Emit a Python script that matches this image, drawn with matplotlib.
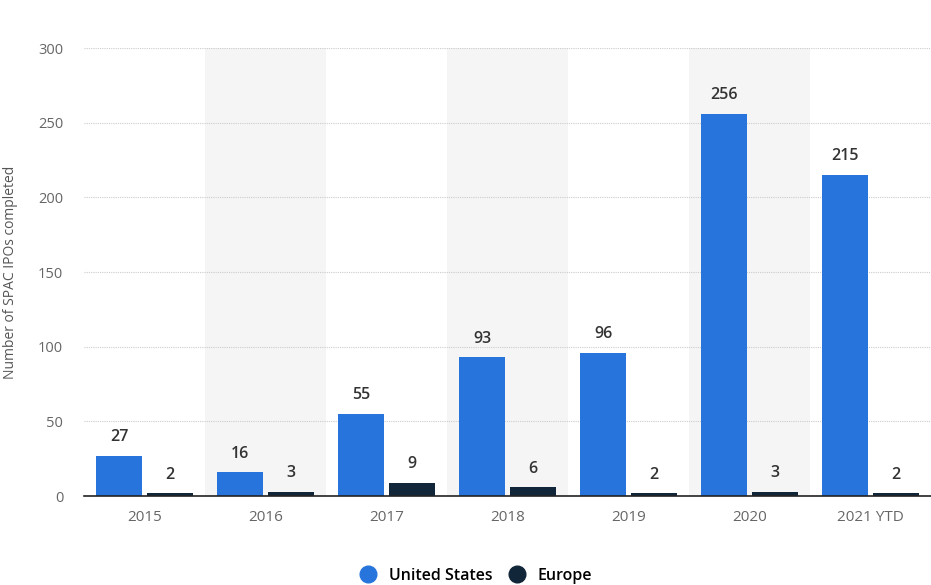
import matplotlib
matplotlib.use("Agg")
import matplotlib.pyplot as plt
import numpy as np
from matplotlib.lines import Line2D

plt.rcParams['font.family'] = ['Open Sans', 'DejaVu Sans']

categories = ["2015", "2016", "2017", "2018", "2019", "2020", "2021 YTD"]
us_values = [27, 16, 55, 93, 96, 256, 215]
europe_values = [2, 3, 9, 6, 2, 3, 2]
series_names = ["United States", "Europe"]
us_color = "#2774DC"
eu_color = "#12263A"

fig = plt.figure(figsize=(9.31, 5.85), dpi=100)
ax = fig.add_axes([84/931, (585-496)/585, (931-84)/931, (496-48)/585])

x = np.arange(len(categories))
w = 0.38
off = 0.21

for i in range(len(categories)):
    if i % 2 == 1:
        ax.axvspan(i - 0.5, i + 0.5, color="#F5F5F5", zorder=0, lw=0)

ax.bar(x - off, us_values, width=w, color=us_color, zorder=3)
ax.bar(x + off, europe_values, width=w, color=eu_color, zorder=3)

for xi, v in zip(x - off, us_values):
    ax.text(xi, v + 7, str(v), ha="center", va="bottom", fontsize=11.5,
            fontweight="semibold", color="#333333", zorder=4)
for xi, v in zip(x + off, europe_values):
    ax.text(xi, v + 7, str(v), ha="center", va="bottom", fontsize=11.5,
            fontweight="semibold", color="#333333", zorder=4)

ax.set_xlim(-0.5, len(categories) - 0.5)
ax.set_ylim(0, 300)
ax.set_yticks([0, 50, 100, 150, 200, 250, 300])
ax.set_xticks(x)
ax.set_xticklabels(categories)
ax.tick_params(axis="both", length=0, labelsize=10.5, labelcolor="#666666")
ax.tick_params(axis="x", labelsize=11)
ax.tick_params(axis="y", pad=15)
ax.tick_params(axis="x", pad=10)
ax.yaxis.grid(True, color="#CCCCCC", linestyle=(0, (1, 1)), linewidth=0.8, zorder=1)
ax.set_axisbelow(True)
for s in ["top", "right", "left"]:
    ax.spines[s].set_visible(False)
ax.spines["bottom"].set_color("#222222")
ax.spines["bottom"].set_linewidth(1.2)
ax.spines["bottom"].set_zorder(5)

ax.set_ylabel("Number of SPAC IPOs completed", fontsize=10, color="#555555")
ax.yaxis.set_label_coords((18 - 84) / 847, 0.5)

handles = [Line2D([0], [0], marker="o", linestyle="", markersize=12, markerfacecolor=c, markeredgecolor=c)
           for c in (us_color, eu_color)]
fig.legend(handles, series_names, loc="center", bbox_to_anchor=(472/931, 1 - 576/585),
           ncol=2, frameon=False, handletextpad=0.3, columnspacing=0.55,
           prop={"weight": "semibold", "size": 11.5})

fig.savefig("out.png", dpi=100)
